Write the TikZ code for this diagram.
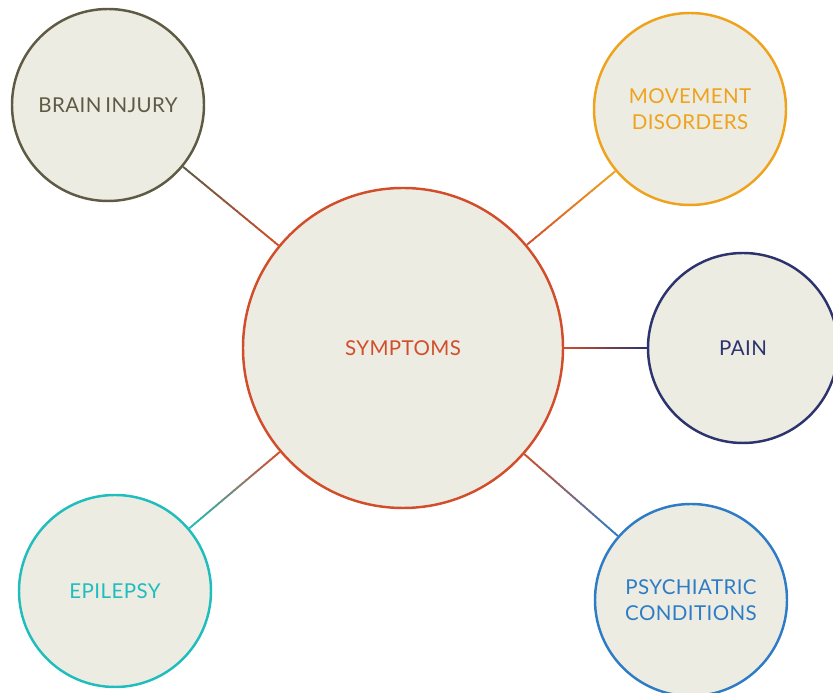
\documentclass[tikz,border=0pt]{standalone}
\usepackage{fontspec}
\setmainfont{Lato}[LetterSpace=2,WordSpace=0.7]
\usepackage{tikz}
\usetikzlibrary{positioning,calc}
\definecolor{symbg}{HTML}{EDECE3}
\definecolor{symred}{HTML}{D24E2A}
\definecolor{bigray}{HTML}{5E5A44}
\definecolor{movorange}{HTML}{EFA21C}
\definecolor{painnavy}{HTML}{2C336D}
\definecolor{epiteal}{HTML}{1FBDBD}
\definecolor{psyblue}{HTML}{2E7CC6}
\tikzstyle{bubble} = [circle, fill=symbg, line width=2.1pt, minimum size=5.76cm, inner sep=0pt, align=center, font=\fontsize{17.5}{22}\selectfont]
% connector fading from one colour to the other, in short pieces
\newcommand{\gradlink}[4]{%
  \path (#1) -- (#2) coordinate[pos=0] (#1-#2-s) coordinate[pos=1] (#1-#2-e);
  \foreach \i in {0,...,29} {
    \pgfmathsetmacro{\pa}{\i/30}
    \pgfmathsetmacro{\pb}{(\i+1.15)/30}
    \pgfmathsetmacro{\mix}{100-\i*100/29}
    \draw[line width=1.6pt, color=#3!\mix!#4]
      ($(#1-#2-s)!\pa!(#1-#2-e)$) -- ($(#1-#2-s)!{min(\pb,1)}!(#1-#2-e)$);
  }
}

\begin{document}
\begin{tikzpicture}
\useasboundingbox (0,0) rectangle (24.99,20.79);
\clip (0,0) rectangle (24.99,20.79);

% Centre
\node[bubble, draw=symred, text=symred, minimum size=9.6cm] (sym) at (12.09,10.35) {SYMPTOMS};

% Around it
\node[bubble, draw=bigray, text=bigray] (bi) at (3.24,17.64) {BRAIN INJURY};
\node[bubble, draw=movorange, text=movorange] (mov) at (20.70,17.52) {MOVEMENT\\DISORDERS};
\node[bubble, draw=painnavy, text=painnavy, minimum size=5.7cm] (pain) at (22.29,10.35) {PAIN};
\node[bubble, draw=epiteal, text=epiteal] (epi) at (3.45,3.06) {EPILEPSY};
\node[bubble, draw=psyblue, text=psyblue] (psy) at (20.73,2.79) {PSYCHIATRIC\\CONDITIONS};

% Links
\gradlink{sym}{bi}{symred}{bigray}
\gradlink{sym}{mov}{symred}{movorange}
\gradlink{sym}{pain}{symred}{painnavy}
\gradlink{sym}{epi}{symred}{epiteal}
\gradlink{sym}{psy}{symred}{psyblue}
\end{tikzpicture}
\end{document}
